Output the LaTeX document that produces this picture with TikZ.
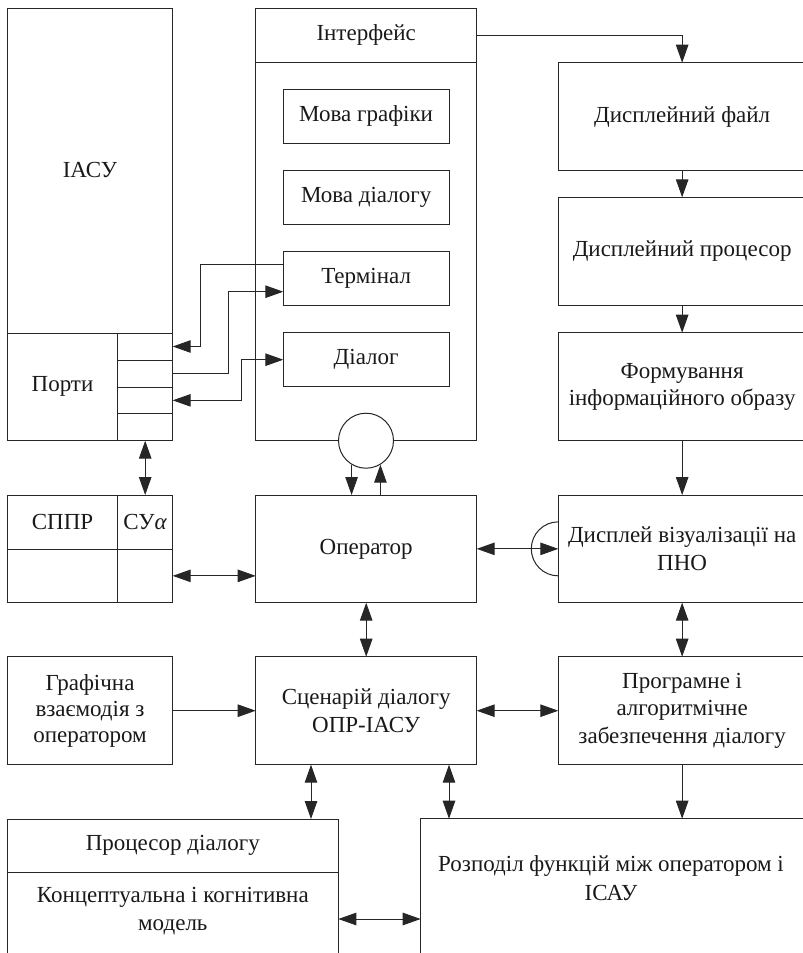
\documentclass[tikz,border=0pt]{standalone}
\usepackage{fontspec}
\setmainfont{Liberation Serif}
\usetikzlibrary{arrows.meta,calc}

\begin{document}
\begin{tikzpicture}[x=1pt,y=-1pt,
  ink/.style={draw=black!85, line width=1pt},
  box/.style={ink, rectangle, inner sep=0pt, outer sep=0pt, anchor=north west,
    align=center, text=black!90, font=\fontsize{23pt}{27.5pt}\selectfont},
  lbl/.style={align=center, text=black!90, inner sep=0pt, font=\fontsize{23pt}{28.5pt}\selectfont},
  tip/.tip={Triangle[length=18pt,width=12.5pt]},
  arr/.style={ink, -tip},
  darr/.style={ink, tip-tip}]

\useasboundingbox (0,0) rectangle (803,953);
\clip (0,0) rectangle (803,953);

% ---------- IASU with its ports ----------
\node[box, minimum width=165.4pt, minimum height=432.4pt] (iasu) at (7.3,8.3) {};
\node[lbl] (iasulbl) at (90,170) {ІАСУ};
\node[box, minimum width=110.4pt, minimum height=107.7pt] (ports) at (7.3,333) {Порти};
\node[box, minimum width=55pt, minimum height=27pt] (c1) at (117.7,333) {};
\node[box, minimum width=55pt, minimum height=27pt] (c2) at (117.7,360) {};
\node[box, minimum width=55pt, minimum height=26.7pt] (c3) at (117.7,387) {};
\node[box, minimum width=55pt, minimum height=27pt] (c4) at (117.7,413.7) {};

% ---------- Interface ----------
\node[box, minimum width=221pt, minimum height=432.4pt] (iface) at (255.7,8.3) {};
\node[box, minimum width=221pt, minimum height=53.7pt] (ifh) at (255.7,8.3) {Інтерфейс};
\node[box, minimum width=165.7pt, minimum height=54pt] (mg) at (283.3,89.3) {Мова графіки};
\node[box, minimum width=165.7pt, minimum height=54pt] (md) at (283.3,170.7) {Мова діалогу};
\node[box, minimum width=165.7pt, minimum height=54pt] (term) at (283.3,251.7) {Термінал};
\node[box, minimum width=165.7pt, minimum height=54pt] (dial) at (283.3,332.7) {Діалог};
\node[ink, circle, fill=white, minimum size=55pt, inner sep=0pt] (eye) at (366,440.7) {};

% ---------- right column ----------
\node[box, minimum width=247.7pt, minimum height=108pt] (dfile) at (558.3,62.7) {Дисплейний файл};
\node[box, minimum width=247.7pt, minimum height=108pt] (dproc) at (558.3,197.3) {Дисплейний процесор};
\node[box, minimum width=247.7pt, minimum height=108pt] (form) at (558.3,332.7) {Формування\\інформаційного образу};
\node[box, minimum width=247.7pt, minimum height=107.7pt] (disp) at (558.3,495) {Дисплей візуалізації на\\ПНО};
\node[box, minimum width=247.7pt, minimum height=108pt] (prog) at (558.3,656.7) {Програмне і\\алгоритмічне\\забезпечення діалогу};

% ---------- middle column ----------
\node[box, minimum width=221pt, minimum height=107.7pt] (oper) at (255.7,495) {Оператор};
\node[box, minimum width=221pt, minimum height=108pt] (scen) at (255.7,656.7) {Сценарій діалогу\\ОПР-ІАСУ};

% ---------- left column ----------
\node[box, minimum width=110.4pt, minimum height=54pt] (s1) at (7.3,495) {СППР};
\node[box, minimum width=55pt, minimum height=54pt] (s2) at (117.7,495) {СУ\textit{α}};
\node[box, minimum width=110.4pt, minimum height=53.7pt] (s3) at (7.3,549) {};
\node[box, minimum width=55pt, minimum height=53.7pt] (s4) at (117.7,549) {};
\node[box, minimum width=165.4pt, minimum height=108pt, font=\fontsize{23pt}{26pt}\selectfont] (graf) at (7.3,656.7) {Графічна\\взаємодія з\\оператором};

% ---------- bottom row ----------
\node[box, minimum width=331pt, minimum height=200pt] (pb) at (7.3,819) {};
\node[box, minimum width=331pt, minimum height=53.7pt] (ph) at (7.3,819) {Процесор діалогу};
\node[lbl] (pbl) at (172.8,911) {Концептуальна і когнітивна\\модель};
\node[box, minimum width=400pt, minimum height=200pt] (rozp) at (420.7,818.7) {};
\node[lbl] (rozpl) at (611,878) {Розподіл функцій між оператором і\\ІСАУ};

% ---------- display semicircle ----------
\draw[ink] ($(disp.west)+(0,-27)$) arc[start angle=90, end angle=270, radius=27pt];

% ---------- connectors ----------
\draw[arr] ($(term.north west)+(0,13)$) -| ($(c1.east)+(27.3,0)$) -- (c1.east);
\draw[arr] (c2.east) -| ($(term.south west)+(-55,-14)$) -- ($(term.south west)+(0,-14)$);
\draw[darr] (c3.east) -| ($(dial.west)+(-41.6,0)$) -- (dial.west);

\draw[arr] (ifh.east) -| (dfile.north);
\draw[arr] (dfile.south) -- (dproc.north);
\draw[arr] (dproc.south) -- (form.north);
\draw[arr] (form.south) -- (disp.north);
\draw[darr] (disp.south) -- (prog.north);
\draw[arr] (prog.south) -- (prog.south |- rozp.north);

\draw[arr] (eye.239) -- (eye.239 |- oper.north);
\draw[arr] (oper.north -| eye.301) -- (eye.301);

\draw[darr] (c4.south) -- (s2.north);
\draw[darr] (s4.east) -- (s4.east -| oper.west);
\draw[darr] (oper.east) -- (disp.west);
\draw[darr] (oper.south) -- (scen.north);
\draw[arr] (graf.east) -- (scen.west);
\draw[darr] (scen.east) -- (prog.west);

\coordinate (sl) at ($(scen.south west)+(55.3,0)$);
\coordinate (sr) at ($(scen.south east)+(-27.7,0)$);
\draw[darr] (sl) -- (sl |- ph.north);
\draw[darr] (sr) -- (sr |- rozp.north);
\draw[darr] (pb.east) -- (pb.east -| rozp.west);

\end{tikzpicture}
\end{document}
